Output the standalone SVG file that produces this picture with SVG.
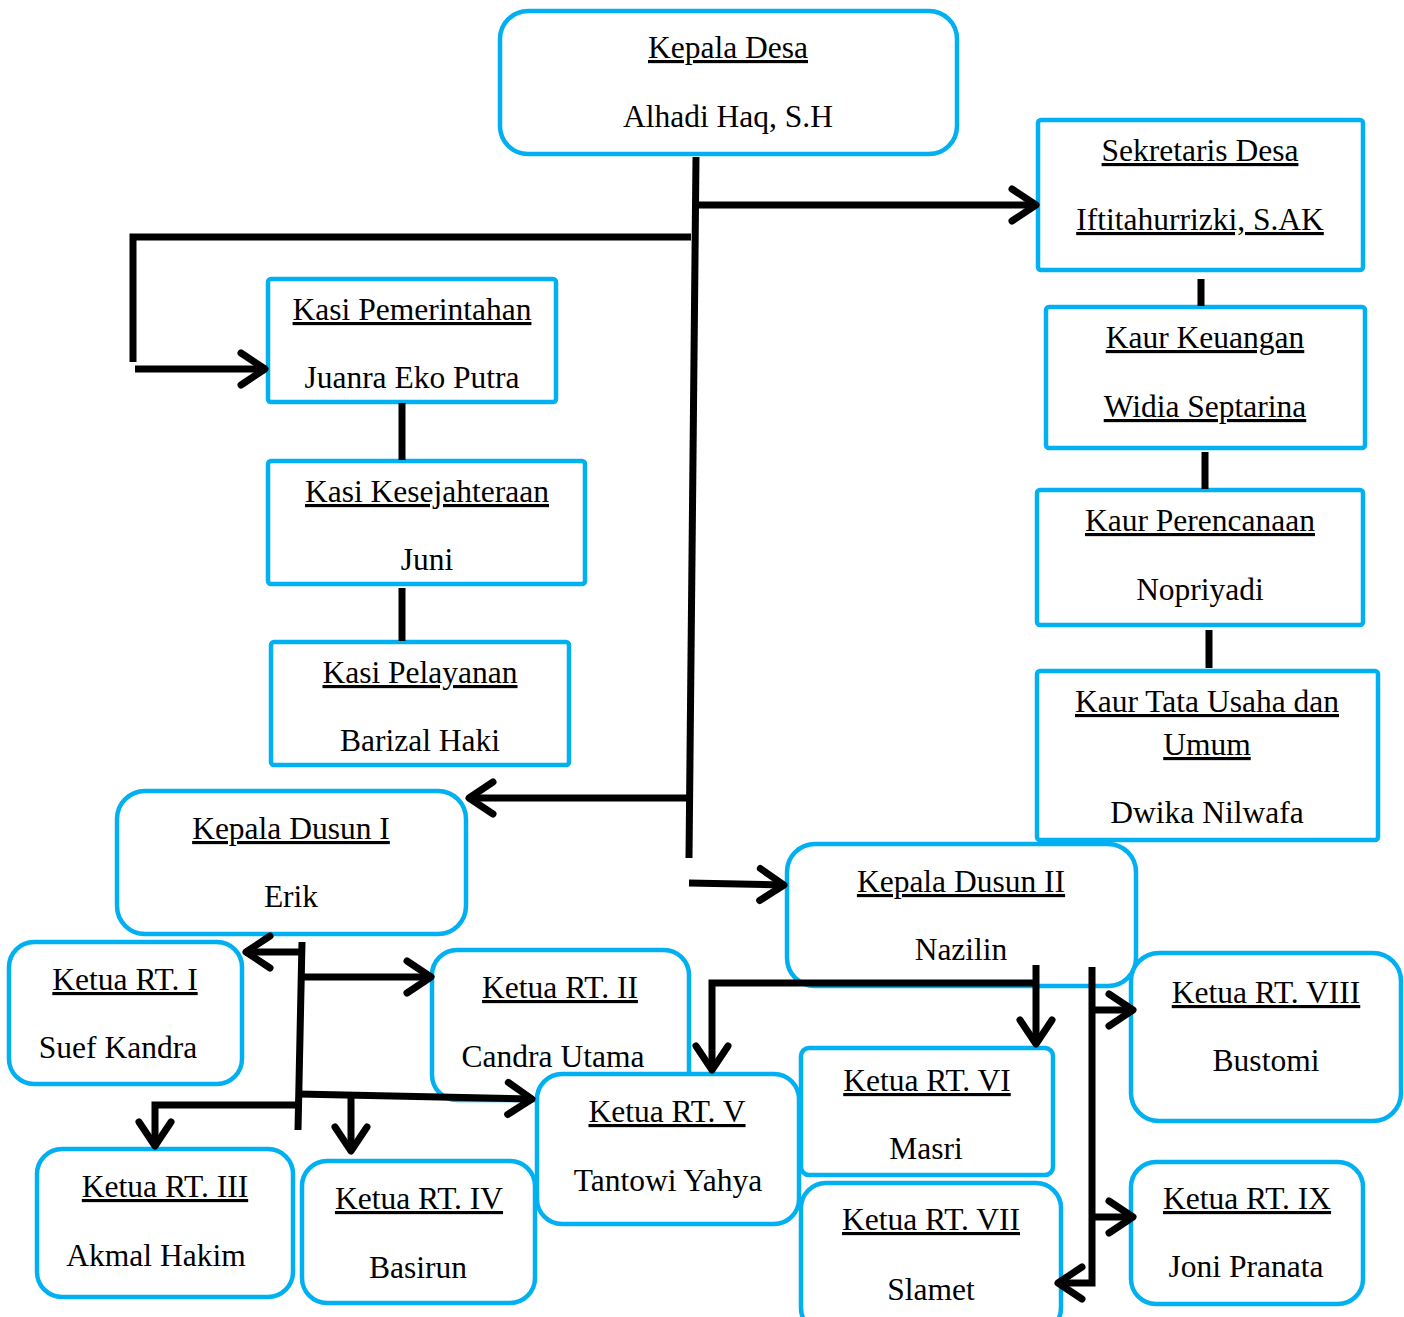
<svg xmlns="http://www.w3.org/2000/svg" width="1404" height="1317" viewBox="0 0 1404 1317">
<style>
.b{fill:#fff;stroke:#00B0F0;stroke-width:4.5}
.t{font-family:"Liberation Serif","Times New Roman",serif;font-size:31.5px;fill:#000;text-anchor:middle}
.u{text-decoration:underline}
.c{fill:none;stroke:#000;stroke-width:7}
.a{marker-end:url(#ah)}
</style>
<defs>
<marker id="ah" markerUnits="userSpaceOnUse" markerWidth="44" markerHeight="44" refX="32" refY="22" orient="auto" viewBox="0 0 44 44">
<path d="M8,6 L32,22 L8,38" fill="none" stroke="#000" stroke-width="7" stroke-linecap="round" stroke-linejoin="round"/>
</marker>
</defs>
<rect width="1404" height="1317" fill="#fff"/>
<g id="kepala-desa"><rect class="b" x="500" y="11" width="457" height="143" rx="28"/><text class="t u" x="728" y="58">Kepala Desa</text><text class="t" x="728" y="127">Alhadi Haq, S.H</text></g>
<g id="sekretaris"><rect class="b" x="1038" y="120" width="325" height="150" rx="3"/><text class="t u" x="1200" y="161">Sekretaris Desa</text><text class="t u" x="1200" y="230">Iftitahurrizki, S.AK</text></g>
<g id="kaur-keuangan"><rect class="b" x="1046" y="307" width="319" height="141" rx="3"/><text class="t u" x="1205" y="348">Kaur Keuangan</text><text class="t u" x="1205" y="417">Widia Septarina</text></g>
<g id="kaur-perencanaan"><rect class="b" x="1037" y="490" width="326" height="135" rx="3"/><text class="t u" x="1200" y="531">Kaur Perencanaan</text><text class="t" x="1200" y="600">Nopriyadi</text></g>
<g id="kaur-tu"><rect class="b" x="1037" y="671" width="341" height="169" rx="3"/><text class="t u" x="1207" y="712">Kaur Tata Usaha dan</text><text class="t u" x="1207" y="755">Umum</text><text class="t" x="1207" y="823">Dwika Nilwafa</text></g>
<g id="kasi-pemerintahan"><rect class="b" x="268" y="279" width="288" height="123" rx="3"/><text class="t u" x="412" y="320">Kasi Pemerintahan</text><text class="t" x="412" y="388">Juanra Eko Putra</text></g>
<g id="kasi-kesejahteraan"><rect class="b" x="268" y="461" width="317" height="123" rx="3"/><text class="t u" x="427" y="502">Kasi Kesejahteraan</text><text class="t" x="427" y="570">Juni</text></g>
<g id="kasi-pelayanan"><rect class="b" x="271" y="642" width="298" height="123" rx="3"/><text class="t u" x="420" y="683">Kasi Pelayanan</text><text class="t" x="420" y="751">Barizal Haki</text></g>
<g id="kadus-1"><rect class="b" x="117" y="791" width="349" height="143" rx="28"/><text class="t u" x="291" y="839">Kepala Dusun I</text><text class="t" x="291" y="907">Erik</text></g>
<g id="kadus-2"><rect class="b" x="787" y="844" width="349" height="142" rx="28"/><text class="t u" x="961" y="892">Kepala Dusun II</text><text class="t" x="961" y="960">Nazilin</text></g>
<g id="rt-1"><rect class="b" x="9" y="942" width="233" height="142" rx="25"/><text class="t u" x="125" y="990">Ketua RT. I</text><text class="t" x="118" y="1058">Suef Kandra</text></g>
<g id="rt-2"><rect class="b" x="432" y="950" width="257" height="150" rx="25"/><text class="t u" x="560" y="998">Ketua RT. II</text><text class="t" x="553" y="1067">Candra Utama</text></g>
<g id="rt-3"><rect class="b" x="37" y="1149" width="256" height="148" rx="25"/><text class="t u" x="165" y="1197">Ketua RT. III</text><text class="t" x="156" y="1266">Akmal Hakim</text></g>
<g id="rt-4"><rect class="b" x="302" y="1161" width="233" height="142" rx="25"/><text class="t u" x="419" y="1209">Ketua RT. IV</text><text class="t" x="418" y="1278">Basirun</text></g>
<g id="rt-5"><rect class="b" x="537" y="1074" width="262" height="150" rx="25"/><text class="t u" x="667" y="1122">Ketua RT. V</text><text class="t" x="668" y="1191">Tantowi Yahya</text></g>
<g id="rt-6"><rect class="b" x="801" y="1048" width="252" height="127" rx="8"/><text class="t u" x="927" y="1091">Ketua RT. VI</text><text class="t" x="926" y="1159">Masri</text></g>
<g id="rt-7"><rect class="b" x="801" y="1183" width="260" height="150" rx="25"/><text class="t u" x="931" y="1230">Ketua RT. VII</text><text class="t" x="931" y="1300">Slamet</text></g>
<g id="rt-8"><rect class="b" x="1131" y="953" width="270" height="168" rx="28"/><text class="t u" x="1266" y="1003">Ketua RT. VIII</text><text class="t" x="1266" y="1071">Bustomi</text></g>
<g id="rt-9"><rect class="b" x="1131" y="1162" width="232" height="142" rx="25"/><text class="t u" x="1247" y="1209">Ketua RT. IX</text><text class="t" x="1246" y="1277">Joni Pranata</text></g>
<g id="connectors">
<path class="c" d="M696,157 L689,858"/>
<path class="c a" d="M696,205 L1036,205"/>
<path class="c" d="M691,237 L133,237 L133,362"/>
<path class="c a" d="M135,369 L265,369"/>
<path class="c a" d="M688,798 L469,798"/>
<path class="c a" d="M689,883 L784,885"/>
<path class="c" d="M402,403 L402,460"/>
<path class="c" d="M402,588 L402,641"/>
<path class="c" d="M1201,279 L1201,306"/>
<path class="c" d="M1205,452 L1205,489"/>
<path class="c" d="M1209,630 L1209,668"/>
<path class="c" d="M302,942 L298,1130"/>
<path class="c a" d="M300,952 L246,952"/>
<path class="c a" d="M300,977 L431,977"/>
<path class="c a" d="M298,1105 L155,1105 L155,1146"/>
<path class="c a" d="M298,1094 L532,1099"/>
<path class="c a" d="M351,1098 L351,1151"/>
<path class="c a" d="M1036,965 L1036,1044"/>
<path class="c a" d="M1036,983 L712,983 L712,1070"/>
<path class="c a" d="M1092,967 L1092,1283 L1058,1283"/>
<path class="c a" d="M1092,1010 L1133,1010"/>
<path class="c a" d="M1092,1217 L1133,1217"/>
</g>
</svg>
